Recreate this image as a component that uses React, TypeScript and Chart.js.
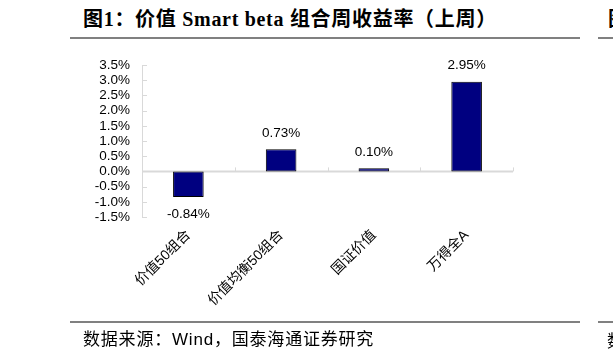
import React, { useEffect, useRef } from "react";
import { Chart, registerables } from "chart.js";

Chart.register(...registerables);

const categories = ["价值50组合", "价值均衡50组合", "国证价值", "万得全A"];
const weeklyReturns = [-0.84, 0.73, 0.1, 2.95];
const yMin = -1.5;
const yMax = 3.5;
const yStep = 0.5;

const titleText = "图1：价值 Smart beta 组合周收益率（上周）";
const sourceText = "数据来源：Wind，国泰海通证券研究";

const axisColor = "#d9d9d9";

const axesPlugin = {
  id: "excelAxes",
  beforeDatasetsDraw(chart: any) {
    const { ctx, chartArea, scales } = chart;
    const y = scales.y;
    const x = scales.x;
    ctx.save();
    ctx.strokeStyle = axisColor;
    ctx.lineWidth = 1;
    // y axis line
    ctx.beginPath();
    ctx.moveTo(chartArea.left + 0.5, chartArea.top);
    ctx.lineTo(chartArea.left + 0.5, chartArea.bottom);
    ctx.stroke();
    // inward y ticks
    y.ticks.forEach((t: any) => {
      const py = Math.round(y.getPixelForValue(t.value)) + 0.5;
      ctx.beginPath();
      ctx.moveTo(chartArea.left, py);
      ctx.lineTo(chartArea.left + 5, py);
      ctx.stroke();
    });
    // zero line
    const zy = y.getPixelForValue(0);
    ctx.lineWidth = 2;
    ctx.beginPath();
    ctx.moveTo(chartArea.left, zy);
    ctx.lineTo(chartArea.right, zy);
    ctx.stroke();
    // category ticks on zero line
    ctx.lineWidth = 1;
    const n = categories.length;
    const w = (chartArea.right - chartArea.left) / n;
    for (let i = 1; i <= n; i++) {
      const px = Math.round(x.getPixelForValue(i - 1) + w / 2) + 0.5;
      ctx.beginPath();
      ctx.moveTo(px, zy);
      ctx.lineTo(px, zy - 4);
      ctx.stroke();
    }
    ctx.restore();
  },
};

const labelsPlugin = {
  id: "barLabels",
  afterDatasetsDraw(chart: any) {
    const { ctx } = chart;
    const meta = chart.getDatasetMeta(0);
    ctx.save();
    ctx.font = "13.5px 'Liberation Sans', Arial, sans-serif";
    ctx.fillStyle = "#000";
    ctx.textAlign = "center";
    ctx.textBaseline = "middle";
    meta.data.forEach((bar: any, i: number) => {
      const v = weeklyReturns[i];
      const txt = v.toFixed(2) + "%";
      const py = v >= 0 ? bar.y - 16 : bar.y + 17;
      ctx.fillText(txt, bar.x, py);
    });
    ctx.restore();
  },
};

function ChartCanvas() {
  const ref = useRef<HTMLCanvasElement | null>(null);
  useEffect(() => {
    if (!ref.current) return;
    const chart = new Chart(ref.current, {
      type: "bar",
      data: {
        labels: categories,
        datasets: [
          {
            data: weeklyReturns,
            backgroundColor: "#000080",
            borderColor: "#000000",
            borderWidth: 1,
            borderSkipped: false,
            barPercentage: 0.33,
            categoryPercentage: 1,
          },
        ],
      },
      options: {
        responsive: false,
        animation: false,
        devicePixelRatio: 1,
        layout: { padding: { left: 0, top: 65, right: 100, bottom: 0 } },
        plugins: {
          legend: { display: false },
          tooltip: { enabled: false },
          title: { display: false },
        },
        scales: {
          x: {
            offset: true,
            grid: { display: false, drawTicks: false },
            border: { display: false },
            ticks: {
              autoSkip: false,
              minRotation: 45,
              maxRotation: 45,
              padding: 10,
              color: "#000",
              font: { family: "'Liberation Sans', 'Noto Sans CJK SC', sans-serif", size: 14 },
            },
            afterFit: (s: any) => {
              s.height = 144;
            },
          },
          y: {
            min: yMin,
            max: yMax,
            grid: { display: false, drawTicks: false },
            border: { display: false },
            ticks: {
              stepSize: yStep,
              autoSkip: false,
              padding: 12,
              color: "#000",
              font: { family: "'Liberation Sans', Arial, sans-serif", size: 13.5 },
              callback: (v: any) => Number(v).toFixed(1) + "%",
            },
            afterFit: (s: any) => {
              s.width = 142;
            },
          },
        },
      },
      plugins: [axesPlugin, labelsPlugin],
    });
    return () => chart.destroy();
  }, []);
  return (
    <canvas
      ref={ref}
      width={613}
      height={361}
      style={{ position: "absolute", left: 0, top: 0, width: 613, height: 361 }}
    />
  );
}

export default function App() {
  return (
    <div
      style={{
        position: "absolute",
        left: 0,
        top: 0,
        width: 613,
        height: 361,
        overflow: "hidden",
        background: "#fff",
      }}
    >
      <div
        style={{
          position: "absolute",
          left: 83,
          top: 5,
          height: 28,
          lineHeight: "28px",
          fontFamily: "'Liberation Serif', 'Noto Sans CJK SC', serif",
          fontWeight: "bold",
          fontSize: 20,
          letterSpacing: 0.7,
          color: "#000",
          whiteSpace: "nowrap",
        }}
      >
        {titleText}
      </div>
      <div
        style={{
          position: "absolute",
          left: 608,
          top: 5,
          height: 28,
          lineHeight: "28px",
          fontFamily: "'Liberation Serif', 'Noto Sans CJK SC', serif",
          fontWeight: "bold",
          fontSize: 20,
          color: "#000",
          whiteSpace: "nowrap",
        }}
      >
        图2
      </div>
      <div style={{ position: "absolute", left: 70, top: 36.5, width: 510, height: 2, background: "#808080" }} />
      <div style={{ position: "absolute", left: 598, top: 36.5, width: 15, height: 2, background: "#808080" }} />
      <ChartCanvas />
      <div style={{ position: "absolute", left: 70, top: 320.5, width: 510, height: 2, background: "#808080" }} />
      <div style={{ position: "absolute", left: 598, top: 320.5, width: 15, height: 2, background: "#808080" }} />
      <div
        style={{
          position: "absolute",
          left: 83,
          top: 328,
          height: 24,
          lineHeight: "24px",
          fontFamily: "'Liberation Sans', 'Noto Sans CJK SC', sans-serif",
          fontSize: 17,
          letterSpacing: 0.8,
          color: "#000",
          whiteSpace: "nowrap",
        }}
      >
        {sourceText}
      </div>
      <div
        style={{
          position: "absolute",
          left: 607,
          top: 328,
          height: 24,
          lineHeight: "24px",
          fontFamily: "'Noto Sans CJK SC', sans-serif",
          fontSize: 17,
          color: "#000",
          whiteSpace: "nowrap",
        }}
      >
        数据
      </div>
    </div>
  );
}
